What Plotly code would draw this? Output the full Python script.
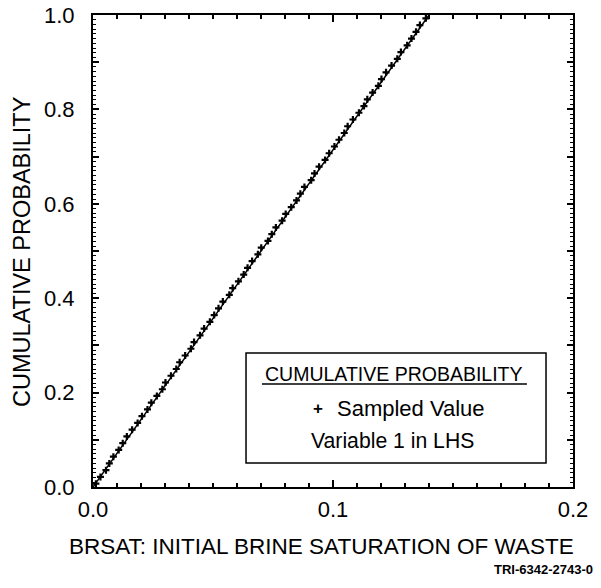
import plotly.graph_objects as go

sampled = [
    0.0012, 0.0031, 0.0054, 0.0068, 0.0085, 0.0107, 0.0124, 0.0141, 0.0163, 0.0186,
    0.0204, 0.0227, 0.0243, 0.0266, 0.0289, 0.0302, 0.0325, 0.0347, 0.0361, 0.0384,
    0.0408, 0.0421, 0.0446, 0.0463, 0.0487, 0.0505, 0.0523, 0.0541, 0.0568, 0.0582,
    0.0606, 0.0628, 0.0644, 0.0663, 0.0687, 0.0701, 0.0729, 0.0745, 0.0762, 0.0788,
    0.0803, 0.0826, 0.0848, 0.0864, 0.0881, 0.0909, 0.0923, 0.0942, 0.0967, 0.0984,
    0.1006, 0.1025, 0.1047, 0.1061, 0.1083, 0.1108, 0.1129, 0.1143, 0.1165, 0.1189,
    0.1202, 0.1221, 0.1244, 0.1268, 0.1283, 0.1309, 0.1327, 0.1346, 0.1362, 0.1387,
]
# plotting position of each ranked sample
cum_prob = [(i + 0.5) / len(sampled) for i in range(len(sampled))]

# Distribution (uniform) CDF end points
dist_x = [0.0, 0.14]
dist_y = [0.0, 1.0]

x_tickvals = [0.0, 0.1, 0.2]
x_ticktext = ["0.0", "0.1", "0.2"]
y_tickvals = [0.0, 0.1, 0.2, 0.3, 0.4, 0.5, 0.6, 0.7, 0.8, 0.9, 1.0]
y_ticktext = ["0.0", "", "0.2", "", "0.4", "", "0.6", "", "0.8", "", "1.0"]

x_title = "BRSAT: INITIAL BRINE SATURATION OF WASTE"
y_title = "CUMULATIVE PROBABILITY"

FONT = "Liberation Sans, Arial, Helvetica, sans-serif"

fig = go.Figure()
fig.add_trace(go.Scatter(x=dist_x, y=dist_y, mode="lines",
                         line=dict(color="black", width=1.5), showlegend=False,
                         hoverinfo="skip"))
fig.add_trace(go.Scatter(x=sampled, y=cum_prob, mode="markers",
                         marker=dict(symbol="cross-thin", size=5,
                                     line=dict(color="black", width=2.2), color="black"),
                         showlegend=False))

axis_common = dict(
    showgrid=False, zeroline=False, showline=True, linecolor="black", linewidth=2,
    mirror="allticks", ticks="inside", tickcolor="black", tickwidth=1.5,
    tickfont=dict(family=FONT, size=22, color="black"), automargin=False,
)

fig.update_xaxes(range=[0, 0.2], tickmode="array", tickvals=x_tickvals,
                 ticktext=x_ticktext, ticklen=7, ticklabelstandoff=2,
                 minor=dict(dtick=0.01, ticks="inside", ticklen=4, tickcolor="black", tickwidth=1.5),
                 **axis_common)
fig.update_yaxes(range=[0, 1.0], tickmode="array", tickvals=y_tickvals,
                 ticktext=y_ticktext, ticklen=6, ticklabelstandoff=12,
                 minor=dict(dtick=0.01, ticks="inside", ticklen=3, tickcolor="black", tickwidth=1.2),
                 **axis_common)

def note(text, x, y, size, **kw):
    fig.add_annotation(xref="paper", yref="paper", x=x, y=y, text=text,
                       showarrow=False, xanchor=kw.pop("xanchor", "center"),
                       yanchor="middle",
                       font=dict(family=FONT, size=size, color="black",
                                 weight=kw.pop("weight", "normal")), **kw)

# Axis titles
note(x_title, 0.476, -0.127, 22.5)
note(y_title, -0.148, 0.5, 23.5, textangle=-90)

# Legend box drawn by hand
fig.add_shape(type="rect", xref="paper", yref="paper",
              x0=0.3188, x1=0.9438, y0=0.0508, y1=0.2839,
              line=dict(color="black", width=1.5), fillcolor="white", layer="above")
fig.add_shape(type="line", xref="paper", yref="paper",
              x0=0.352, x1=0.904, y0=0.2182, y1=0.2182,
              line=dict(color="black", width=1.5), layer="above")
note("CUMULATIVE PROBABILITY", 0.627, 0.2395, 19.5)
note("+", 0.469, 0.167, 17, weight="bold")
note("Sampled Value", 0.504, 0.167, 22, xanchor="left")
note("Variable 1 in LHS", 0.624, 0.0975, 21.2)

# Footer id
note("TRI-6342-2743-0", 1.045, -0.175, 13, xanchor="right", weight="bold")

fig.update_layout(
    width=601, height=588,
    margin=dict(l=93, r=28, t=15, b=101, autoexpand=False),
    plot_bgcolor="white", paper_bgcolor="white",
    showlegend=False,
)

fig.write_html("out.html", config={"displayModeBar": False},
               post_script="document.body.style.margin='0';document.body.style.overflow='hidden';")
